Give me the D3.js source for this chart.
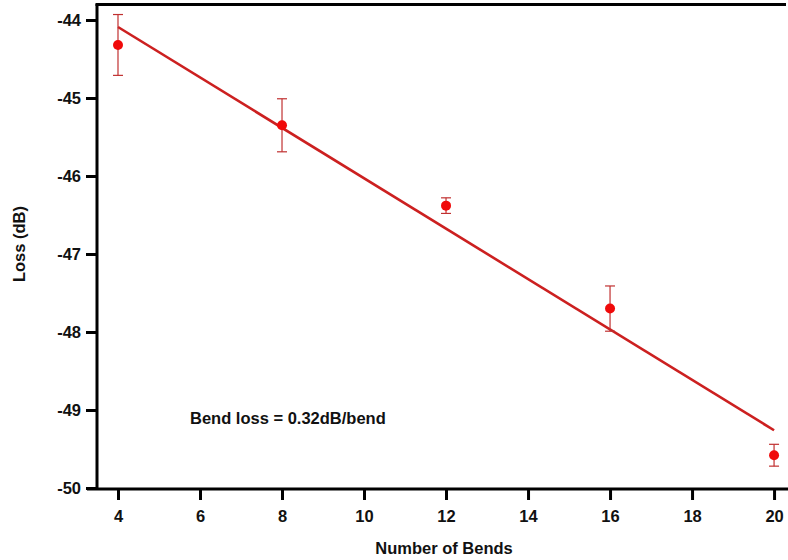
<!DOCTYPE html>
<html><head><meta charset="utf-8">
<script src="https://cdn.jsdelivr.net/npm/d3@7"></script>
<style>
body{margin:0;background:#fff;}
text{font-family:Arial,"Liberation Sans",sans-serif;font-weight:bold;fill:#111;}
</style></head>
<body><svg id="c" width="788" height="560"></svg>
<script>
const bends = [4, 8, 12, 16, 20];
const loss = [-44.32, -45.35, -46.38, -47.70, -49.58];
const errs = [0.39, 0.34, 0.10, 0.29, 0.14];
const fitX = [4, 20];
const fitY = [-44.09, -49.26];
const xTicks = [4, 6, 8, 10, 12, 14, 16, 18, 20];
const yTicks = [-44, -45, -46, -47, -48, -49, -50];
const annotation = "Bend loss = 0.32dB/bend";

const svg = d3.select("#c");
const L = 97, T = 4, R = 788, B = 489;
const x = d3.scaleLinear().domain([3.488, 20.34]).range([L, R]);
const y = d3.scaleLinear().domain([-50.013, -43.795]).range([B, T]);
const dred = "#cc2020";

// fit line
svg.append("line")
  .attr("x1", x(fitX[0])).attr("y1", y(fitY[0]))
  .attr("x2", x(fitX[1])).attr("y2", y(fitY[1]))
  .attr("stroke", dred).attr("stroke-width", 2.6);

// error bars
const g = svg.append("g");
bends.forEach((b, i) => {
  const cx = x(b), y1 = y(loss[i] + errs[i]), y2 = y(loss[i] - errs[i]);
  g.append("line").attr("x1", cx).attr("x2", cx).attr("y1", y1).attr("y2", y2).attr("stroke", "#c03030").attr("stroke-width", 1.2);
  [y1, y2].forEach(yy => g.append("line").attr("x1", cx - 5).attr("x2", cx + 5).attr("y1", yy).attr("y2", yy).attr("stroke", "#c03030").attr("stroke-width", 1.2));
  g.append("circle").attr("cx", cx).attr("cy", y(loss[i])).attr("r", 5).attr("fill", "#f00a0a");
});

// axes
const ax = svg.append("g").attr("transform", `translate(0,${B})`)
  .call(d3.axisBottom(x).tickValues(xTicks).tickSize(11).tickPadding(10).tickFormat(d3.format("d")));
const ay = svg.append("g").attr("transform", `translate(${L},0)`)
  .call(d3.axisLeft(y).tickValues(yTicks).tickSize(11).tickPadding(5).tickFormat(d => d3.format("d")(d).replace("\u2212", "-")));
[ax, ay].forEach(a => {
  a.select(".domain").attr("stroke", "#000").attr("stroke-width", 3);
  a.selectAll(".tick line").attr("stroke", "#000").attr("stroke-width", 3);
  a.selectAll(".tick text").style("font-size", "16.5px").attr("fill", "#111");
});
ay.select(".domain").attr("d", `M0,${T}V${B}`);
ax.select(".domain").attr("d", `M${L - 10},0H${R}`);
// top frame
svg.append("line").attr("x1", L - 1.5).attr("x2", R - 2).attr("y1", T + 0.5).attr("y2", T + 0.5).attr("stroke", "#000").attr("stroke-width", 3);

// annotation
svg.append("text").attr("x", 190).attr("y", 424).style("font-size", "16.5px").text(annotation);

// axis titles
svg.append("text").attr("x", 444).attr("y", 554).attr("text-anchor", "middle").style("font-size", "16.5px").text("Number of Bends");
svg.append("text").attr("transform", "translate(25,244) rotate(-90)").attr("text-anchor", "middle").style("font-size", "16.5px").text("Loss (dB)");
</script></body></html>
